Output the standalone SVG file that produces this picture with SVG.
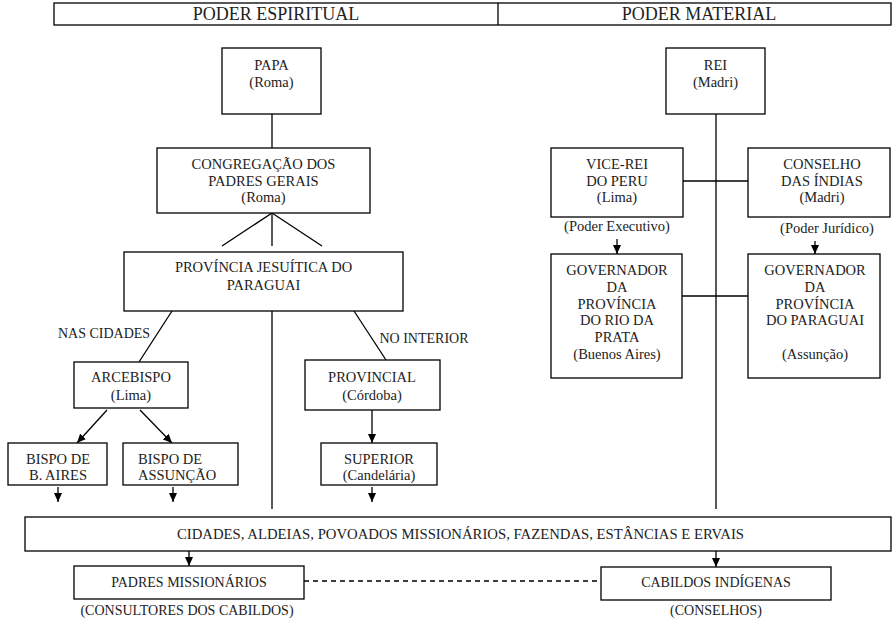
<svg xmlns="http://www.w3.org/2000/svg" width="892" height="620" viewBox="0 0 892 620">
<style>
.b{fill:#fff;stroke:#000;stroke-width:1.3}
.l{fill:none;stroke:#000;stroke-width:1.3}
text{font-family:"Liberation Serif","Times New Roman",serif;font-size:14.5px;fill:#222;text-anchor:middle}
.h{font-size:18px}
.s{font-size:14px}
</style>
<defs>
<marker id="ah" viewBox="0 0 9 8" markerWidth="9" markerHeight="8" refX="9" refY="4" orient="auto" markerUnits="userSpaceOnUse">
<path d="M0,0 L9,4 L0,8 z" fill="#000"/>
</marker>
</defs>
<rect width="892" height="620" fill="#fff"/>
<g id="header">
<rect class="b" x="54" y="3" width="837" height="22"/>
<line class="l" x1="498" y1="3" x2="498" y2="25"/>
<text class="h" x="276" y="20">PODER ESPIRITUAL</text>
<text class="h" x="699" y="20">PODER MATERIAL</text>
</g>
<g id="connectors">
<line class="l" x1="272" y1="114" x2="272" y2="148"/>
<line class="l" x1="272" y1="213" x2="222" y2="246"/>
<line class="l" x1="272" y1="213" x2="272" y2="246"/>
<line class="l" x1="272" y1="213" x2="322" y2="246"/>
<line class="l" x1="172" y1="311" x2="139" y2="362"/>
<line class="l" x1="354" y1="311" x2="386" y2="360"/>
<line class="l" x1="272" y1="311" x2="272" y2="509"/>
<line class="l" x1="716" y1="114" x2="716" y2="509"/>
<line class="l" x1="682" y1="181" x2="748" y2="181"/>
<line class="l" x1="682" y1="296" x2="748" y2="296"/>
<line class="l" x1="304" y1="581" x2="601" y2="581" stroke-dasharray="5,4"/>
<line class="l" x1="617" y1="239" x2="617" y2="254" marker-end="url(#ah)"/>
<line class="l" x1="815" y1="241" x2="815" y2="254" marker-end="url(#ah)"/>
<line class="l" x1="107" y1="410" x2="77" y2="443" marker-end="url(#ah)"/>
<line class="l" x1="140" y1="410" x2="172" y2="443" marker-end="url(#ah)"/>
<line class="l" x1="372" y1="410" x2="372" y2="443" marker-end="url(#ah)"/>
<line class="l" x1="58" y1="487" x2="58" y2="502" marker-end="url(#ah)"/>
<line class="l" x1="173" y1="487" x2="173" y2="502" marker-end="url(#ah)"/>
<line class="l" x1="372" y1="487" x2="372" y2="502" marker-end="url(#ah)"/>
<line class="l" x1="189" y1="551" x2="189" y2="566" marker-end="url(#ah)"/>
<line class="l" x1="716" y1="551" x2="716" y2="567" marker-end="url(#ah)"/>
<text x="104" y="338" class="s">NAS CIDADES</text>
<text x="424" y="343" class="s">NO INTERIOR</text>
<text x="617" y="231">(Poder Executivo)</text>
<text x="827" y="233">(Poder Jurídico)</text>
</g>
<g id="papa">
<rect class="b" x="222" y="48" width="99" height="66"/>
<text x="271.5" y="70">PAPA</text>
<text x="271.5" y="87">(Roma)</text>
</g>
<g id="congregacao">
<rect class="b" x="157" y="148" width="213" height="65"/>
<text x="263.5" y="169">CONGREGAÇÃO DOS</text>
<text x="263.5" y="186">PADRES GERAIS</text>
<text x="263.5" y="202">(Roma)</text>
</g>
<g id="provincia">
<rect class="b" x="124" y="252" width="279" height="59"/>
<text x="263.5" y="272">PROVÍNCIA JESUÍTICA DO</text>
<text x="263.5" y="290">PARAGUAI</text>
</g>
<g id="arcebispo">
<rect class="b" x="74" y="362" width="114" height="46"/>
<text x="131" y="382">ARCEBISPO</text>
<text x="131" y="400">(Lima)</text>
</g>
<g id="provincial">
<rect class="b" x="305" y="360" width="135" height="50"/>
<text x="372" y="382">PROVINCIAL</text>
<text x="372" y="400">(Córdoba)</text>
</g>
<g id="bispo-ba">
<rect class="b" x="8" y="443" width="99" height="42"/>
<text x="58" y="464">BISPO DE</text>
<text x="58" y="480">B. AIRES</text>
</g>
<g id="bispo-assuncao">
<rect class="b" x="123" y="443" width="115" height="42"/>
<text x="138" y="464" style="text-anchor:start">BISPO DE</text>
<text x="138" y="480" style="text-anchor:start">ASSUNÇÃO</text>
</g>
<g id="superior">
<rect class="b" x="321" y="443" width="116" height="42"/>
<text x="379" y="464">SUPERIOR</text>
<text x="379" y="480">(Candelária)</text>
</g>
<g id="rei">
<rect class="b" x="666" y="48" width="99" height="66"/>
<text x="715.5" y="70">REI</text>
<text x="715.5" y="87">(Madri)</text>
</g>
<g id="vice-rei">
<rect class="b" x="551" y="148" width="132" height="69"/>
<text x="617" y="169">VICE-REI</text>
<text x="617" y="186">DO PERU</text>
<text x="617" y="202">(Lima)</text>
</g>
<g id="conselho">
<rect class="b" x="748" y="148" width="142" height="69"/>
<text x="822" y="169">CONSELHO</text>
<text x="822" y="186">DAS ÍNDIAS</text>
<text x="822" y="202">(Madri)</text>
</g>
<g id="gov-rio-prata">
<rect class="b" x="551" y="254" width="131" height="124"/>
<text x="617" y="275">GOVERNADOR</text>
<text x="617" y="292">DA</text>
<text x="617" y="309">PROVÍNCIA</text>
<text x="617" y="325">DO RIO DA</text>
<text x="617" y="342">PRATA</text>
<text x="617" y="359">(Buenos Aires)</text>
</g>
<g id="gov-paraguai">
<rect class="b" x="748" y="254" width="132" height="124"/>
<text x="815" y="275">GOVERNADOR</text>
<text x="815" y="292">DA</text>
<text x="815" y="309">PROVÍNCIA</text>
<text x="815" y="325">DO PARAGUAI</text>
<text x="815" y="359">(Assunção)</text>
</g>
<g id="cidades">
<rect class="b" x="25" y="517" width="866" height="34"/>
<text x="460.5" y="539" class="s" textLength="567" lengthAdjust="spacingAndGlyphs">CIDADES, ALDEIAS, POVOADOS MISSIONÁRIOS, FAZENDAS, ESTÂNCIAS E ERVAIS</text>
</g>
<g id="padres">
<rect class="b" x="74" y="566" width="230" height="33"/>
<text x="189" y="587" class="s">PADRES MISSIONÁRIOS</text>
<text x="187" y="615" class="s">(CONSULTORES DOS CABILDOS)</text>
</g>
<g id="cabildos">
<rect class="b" x="601" y="567" width="230" height="33"/>
<text x="716" y="587" class="s">CABILDOS INDÍGENAS</text>
<text x="716" y="615" class="s">(CONSELHOS)</text>
</g>
</svg>
